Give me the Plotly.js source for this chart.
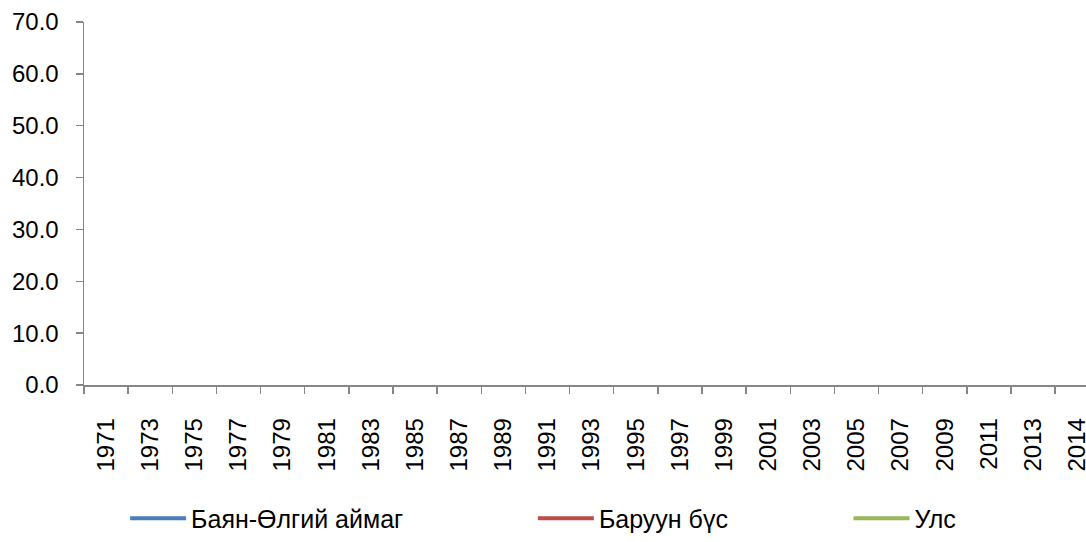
<!DOCTYPE html>
<html lang="mn">
<head>
    <meta charset="UTF-8">
    <title>Баян-Өлгий аймаг, Баруун бүс, Улс</title>
    <script src="https://cdn.plot.ly/plotly-3.0.1.min.js"></script>
    <style>
        body { margin: 0; padding: 0; background: #fff; }
        #chart { width: 1086px; height: 542px; }
    </style>
</head>
<body>
    <div id="chart"></div>

    <script>
        // category labels on the x axis
        const years = ['1971', '1973', '1975', '1977', '1979', '1981', '1983', '1985',
                       '1987', '1989', '1991', '1993', '1995', '1997', '1999', '2001',
                       '2003', '2005', '2007', '2009', '2011', '2013', '2014'];

        // the reference draws no values, the series are empty
        const bayanUlgii = years.map(() => null);
        const baruunBus = years.map(() => null);
        const uls = years.map(() => null);

        const seriesNames = ['Баян-Өлгий аймаг', 'Баруун бүс', 'Улс'];
        const seriesColors = ['#4A7EBB', '#BE4B48', '#98B954'];
        const yTicks = [0, 10, 20, 30, 40, 50, 60, 70];

        const font = { family: 'Liberation Sans, Arial, sans-serif', size: 24, color: '#000' };
        const legendFont = { family: 'Liberation Sans, Arial, sans-serif', size: 25, color: '#000' };
        const axisGrey = '#868686';

        const allSeries = [bayanUlgii, baruunBus, uls];
        const legendIds = ['legend', 'legend2', 'legend3'];

        const traces = allSeries.map((vals, i) => ({
            type: 'scatter',
            mode: 'lines',
            x: years,
            y: vals,
            name: seriesNames[i],
            line: { color: seriesColors[i], width: 4 },
            legend: legendIds[i],
            showlegend: true,
            hoverinfo: 'skip'
        }));

        // legend entries sit at fixed spots under the chart
        const legendX = [0.041, 0.448, 0.763];
        const legendBase = {
            orientation: 'h',
            y: -0.3676,
            yanchor: 'middle',
            xanchor: 'left',
            font: legendFont,
            itemwidth: 56,
            bgcolor: 'rgba(0,0,0,0)'
        };

        const layout = {
            width: 1086,
            height: 542,
            margin: { l: 84, r: 0, t: 22, b: 150 },
            paper_bgcolor: '#fff',
            plot_bgcolor: '#fff',
            font: font,
            showlegend: true,
            xaxis: {
                type: 'category',
                categoryorder: 'array',
                categoryarray: years,
                range: [-0.5, 22.2],
                tickson: 'boundaries',
                ticks: 'outside',
                ticklen: 7,
                tickcolor: axisGrey,
                tickwidth: 1.5,
                tickangle: -90,
                ticklabelstandoff: 22,
                showline: true,
                linecolor: axisGrey,
                linewidth: 1.5,
                showgrid: false,
                zeroline: false,
                tickfont: font
            },
            yaxis: {
                range: [0, 70],
                tickvals: yTicks,
                ticktext: yTicks.map(v => v.toFixed(1)),
                ticks: 'outside',
                ticklen: 7,
                tickcolor: axisGrey,
                tickwidth: 1.5,
                ticklabelstandoff: 12,
                showline: true,
                linecolor: axisGrey,
                linewidth: 1.5,
                showgrid: false,
                zeroline: false,
                tickfont: font
            },
            legend: Object.assign({}, legendBase, { x: legendX[0] }),
            legend2: Object.assign({}, legendBase, { x: legendX[1] }),
            legend3: Object.assign({}, legendBase, { x: legendX[2] })
        };

        Plotly.newPlot('chart', traces, layout, { staticPlot: true, displayModeBar: false });
    </script>
</body>
</html>
